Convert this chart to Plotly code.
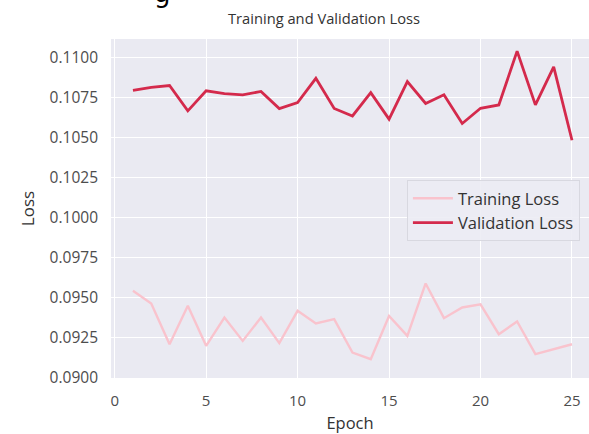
import plotly.graph_objects as go

epochs = list(range(1, 26))
training_loss = [0.09542, 0.09463, 0.09208, 0.09448, 0.09198, 0.09375, 0.09229, 0.09375,
                 0.09215, 0.09417, 0.09338, 0.09365, 0.09156, 0.09115, 0.09385, 0.09260,
                 0.09588, 0.09371, 0.09438, 0.09458, 0.09271, 0.09350, 0.09146, 0.09177,
                 0.09208]
validation_loss = [0.10795, 0.10813, 0.10825, 0.10667, 0.10792, 0.10775, 0.10767, 0.10788,
                   0.10681, 0.10719, 0.10870, 0.10682, 0.10635, 0.10781, 0.10615, 0.10850,
                   0.10713, 0.10767, 0.10588, 0.10683, 0.10704, 0.11040, 0.10704, 0.10942,
                   0.10483]
x_ticks = [0, 5, 10, 15, 20, 25]
y_ticks = [0.0900, 0.0925, 0.0950, 0.0975, 0.1000, 0.1025, 0.1050, 0.1075, 0.1100]

FONT = "Open Sans"
TXT = "#4d4d4d"

fig = go.Figure()
fig.add_trace(go.Scatter(x=epochs, y=training_loss, mode="lines", name="Training Loss",
                         line=dict(color="#f9c3cd", width=2.4)))
fig.add_trace(go.Scatter(x=epochs, y=validation_loss, mode="lines", name="Validation Loss",
                         line=dict(color="#d42a4c", width=2.8)))

fig.update_layout(
    width=589, height=434,
    margin=dict(l=111, r=0, t=39, b=56, autoexpand=False),
    paper_bgcolor="white",
    plot_bgcolor="#eaeaf2",
    font=dict(family=FONT, color=TXT, size=15.5),
    title=dict(text="Training and Validation Loss", x=324 / 589, xanchor="center",
               xref="container", yref="container", y=1 - 18.5 / 434, yanchor="middle",
               font=dict(family=FONT, size=14.7, color="#333333")),
    xaxis=dict(range=[-0.2, 25.93], tickvals=x_ticks, ticktext=[str(v) for v in x_ticks],
               showgrid=True, gridcolor="white", gridwidth=1.2, zeroline=False,
               showline=False, ticks="", ticklabelstandoff=12, automargin=False,
               tickfont=dict(size=15, color=TXT),
               title=dict(text="Epoch", standoff=10, font=dict(size=16.5, color="#333333"))),
    yaxis=dict(range=[0.08997, 0.11116], tickvals=y_ticks,
               ticktext=[f"{v:.4f}" for v in y_ticks],
               showgrid=True, gridcolor="white", gridwidth=1.2, zeroline=False,
               showline=False, ticks="", ticklabelstandoff=12, automargin=False,
               tickfont=dict(size=15.5, color=TXT),
               title=dict(text="Loss", standoff=10, font=dict(size=17, color="#333333"))),
    legend=dict(x=0.981, xanchor="right", y=0.584, yanchor="top",
                bgcolor="rgba(236,236,244,0.9)", bordercolor="#d8d8e0", borderwidth=1,
                font=dict(size=16.5, color="#333333"), tracegroupgap=0, itemwidth=40),
    showlegend=True,
)

fig.add_annotation(text="g", xref="paper", yref="paper", x=(162 - 111) / 478, y=1 + 29 / 339,
                   xanchor="center", yanchor="bottom", showarrow=False,
                   font=dict(family="DejaVu Sans", size=26, color="black"))

fig.write_html("out.html", config={"displayModeBar": False},
               post_script="document.body.style.margin='0';document.body.style.padding='0';")
